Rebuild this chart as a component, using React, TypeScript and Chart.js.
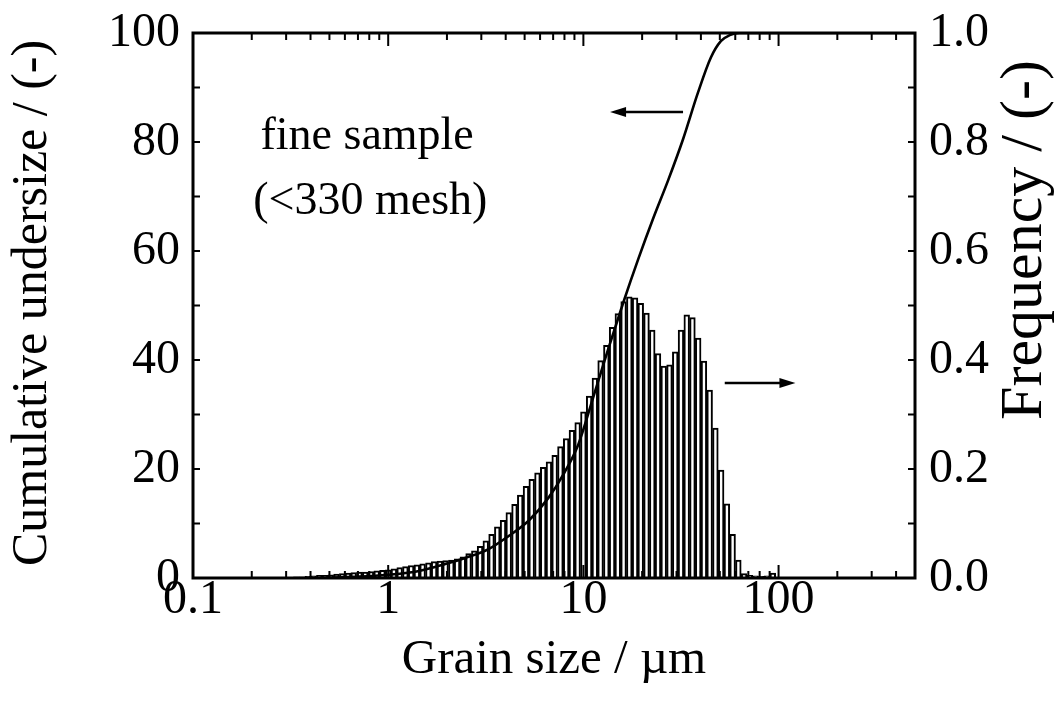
import React, { useEffect, useRef } from 'react';
import { Chart, registerables } from 'chart.js';

Chart.register(...registerables);

const FONT = '"Liberation Serif", "Times New Roman", serif';

// Histogram bins (grain size, µm) and frequency values (right axis)
const grainSizes = [
  0.3162, 0.3384, 0.3621, 0.3875, 0.4146, 0.4437, 0.4747, 0.508, 0.5436, 0.5817, 0.6224, 0.666, 0.7127, 0.7626, 0.8161, 0.8733, 0.9344,
  1.0, 1.070, 1.145, 1.225, 1.311, 1.403, 1.501, 1.607, 1.719, 1.840, 1.968, 2.106, 2.254, 2.412, 2.581, 2.762, 2.955, 3.162, 3.384,
  3.621, 3.875, 4.146, 4.437, 4.747, 5.080, 5.436, 5.817, 6.224, 6.660, 7.127, 7.626, 8.161, 8.733, 9.344,
  10.0, 10.70, 11.45, 12.25, 13.11, 14.03, 15.01, 16.07, 17.19, 18.40, 19.68, 21.06, 22.54, 24.12, 25.81, 27.62, 29.55, 31.62, 33.84,
  36.21, 38.75, 41.46, 44.37, 47.47, 50.80, 54.36, 58.17, 62.24, 66.60, 71.27, 76.26, 81.61, 87.33, 93.44,
];
const frequency = [
  0.001, 0.002, 0.002, 0.003, 0.004, 0.005, 0.005, 0.006, 0.007, 0.008, 0.009, 0.010, 0.011, 0.011, 0.012, 0.013, 0.014,
  0.015, 0.017, 0.019, 0.021, 0.023, 0.024, 0.026, 0.028, 0.030, 0.031, 0.032, 0.033, 0.035, 0.039, 0.045, 0.050, 0.058, 0.068, 0.080,
  0.094, 0.106, 0.120, 0.135, 0.152, 0.168, 0.181, 0.193, 0.203, 0.213, 0.225, 0.241, 0.256, 0.271, 0.285,
  0.305, 0.334, 0.367, 0.399, 0.427, 0.460, 0.485, 0.507, 0.516, 0.514, 0.504, 0.486, 0.455, 0.412, 0.389, 0.391, 0.415, 0.455, 0.483,
  0.478, 0.440, 0.398, 0.345, 0.275, 0.198, 0.136, 0.080, 0.033, 0.008, 0.005, 0.004, 0.003, 0.004, 0.009,
];

// Cumulative undersize curve (left axis)
const cumSizes = [0.4, 0.5, 0.71, 1.0, 1.44, 1.98, 2.5, 3.27, 4.14, 5.24, 6.62, 7.9, 9.42, 11.2, 13.4, 16.0, 19.1, 22.8, 27.2, 32.4, 38.6, 45.0, 50.6, 56.2, 63.2, 500];
const cumUndersize = [0, 0.1, 0.25, 0.6, 1.3, 2.6, 3.7, 5.3, 7.7, 10.5, 14.7, 19.0, 24.5, 33.0, 42.0, 50.5, 58.5, 66.0, 73.0, 80.5, 89.0, 95.5, 98.5, 99.6, 100, 100];

// Tick labels
const xTickLabels = ['0.1', '1', '10', '100'];
const leftTickLabels = ['0', '20', '40', '60', '80', '100'];
const rightTickLabels = ['0.0', '0.2', '0.4', '0.6', '0.8', '1.0'];

// Text annotations
const annotationLines = ['fine sample', '(<330 mesh)'];

const decor = {
  id: 'decor',
  afterDraw(chart: any) {
    const { ctx, chartArea: a, scales } = chart;
    const x = scales.x, y = scales.y, y1 = scales.y1;
    ctx.save();
    ctx.strokeStyle = '#000';
    ctx.fillStyle = '#000';

    // ticks (inward)
    ctx.lineWidth = 2;
    ctx.beginPath();
    for (let e = -1; e <= 2; e++) {
      for (let m = 1; m <= 9; m++) {
        const v = m * Math.pow(10, e);
        if (v > 500 + 1e-9) continue;
        const px = x.getPixelForValue(v);
        const len = m === 1 ? 13 : 7;
        ctx.moveTo(px, a.bottom); ctx.lineTo(px, a.bottom - len);
        ctx.moveTo(px, a.top); ctx.lineTo(px, a.top + len);
      }
    }
    for (let v = 10; v < 100; v += 10) {
      const py = y.getPixelForValue(v);
      ctx.moveTo(a.left, py); ctx.lineTo(a.left + 7, py);
    }
    for (let v = 1; v < 10; v++) {
      const py = y1.getPixelForValue(v / 10);
      ctx.moveTo(a.right, py); ctx.lineTo(a.right - 7, py);
    }
    ctx.stroke();

    // frame
    ctx.lineWidth = 3;
    ctx.strokeRect(a.left, a.top, a.right - a.left, a.bottom - a.top);

    // arrows
    const arrow = (x0: number, x1: number, py: number) => {
      ctx.lineWidth = 2.5;
      ctx.beginPath();
      const dir = Math.sign(x1 - x0);
      ctx.moveTo(x0, py); ctx.lineTo(x1 - dir * 10, py);
      ctx.stroke();
      ctx.beginPath();
      ctx.moveTo(x1, py);
      ctx.lineTo(x1 - dir * 16, py - 5);
      ctx.lineTo(x1 - dir * 16, py + 5);
      ctx.closePath();
      ctx.fill();
    };
    arrow(x.getPixelForValue(32.4), x.getPixelForValue(13.7), y.getPixelForValue(85.5));
    arrow(x.getPixelForValue(53), x.getPixelForValue(122), y1.getPixelForValue(0.358));

    // annotation text
    ctx.font = `46px ${FONT}`;
    ctx.textAlign = 'center';
    ctx.textBaseline = 'middle';
    ctx.fillText(annotationLines[0], x.getPixelForValue(0.78), y.getPixelForValue(81.0));
    ctx.fillText(annotationLines[1], x.getPixelForValue(0.81), y.getPixelForValue(69.0));

    // axis titles
    ctx.textBaseline = 'alphabetic';
    ctx.font = `49px ${FONT}`;
    ctx.fillText('Grain size / µm', (a.left + a.right) / 2, 673);

    ctx.font = `50px ${FONT}`;
    ctx.save();
    ctx.translate(46, 303);
    ctx.rotate(-Math.PI / 2);
    ctx.fillText('Cumulative undersize / (-)', 0, 0);
    ctx.restore();

    ctx.font = `60px ${FONT}`;
    ctx.save();
    ctx.translate(1041, 240);
    ctx.rotate(-Math.PI / 2);
    ctx.fillText('Frequency / (-)', 0, 0);
    ctx.restore();

    ctx.restore();
  },
};

const App = () => {
  const ref = useRef<HTMLCanvasElement>(null);
  useEffect(() => {
    const canvas = ref.current;
    if (!canvas) return;
    const tickFont = { family: FONT, size: 48 };
    const zeroPad = (s: any) => {
      s.paddingTop = 0; s.paddingBottom = 0; s.paddingLeft = 0; s.paddingRight = 0;
    };
    const chart = new Chart(canvas, {
      type: 'bar',
      data: {
        datasets: [
          {
            type: 'line',
            label: 'Cumulative undersize',
            data: cumSizes.map((v, i) => ({ x: v, y: cumUndersize[i] })),
            yAxisID: 'y',
            borderColor: '#000',
            borderWidth: 2.6,
            pointRadius: 0,
            cubicInterpolationMode: 'monotone',
            order: 0,
          } as any,
          {
            type: 'bar',
            label: 'Frequency',
            data: grainSizes.map((v, i) => ({ x: v, y: frequency[i] })),
            yAxisID: 'y1',
            backgroundColor: '#fff',
            borderColor: '#000',
            borderWidth: 2,
            barPercentage: 1,
            categoryPercentage: 1,
            order: 1,
          } as any,
        ],
      },
      options: {
        responsive: true,
        maintainAspectRatio: false,
        animation: false,
        layout: { padding: { top: 33, left: 0, right: 0, bottom: 0 } },
        plugins: { legend: { display: false }, tooltip: { enabled: false } },
        scales: {
          x: {
            type: 'logarithmic',
            min: 0.1,
            max: 500,
            position: 'bottom',
            grid: { display: false },
            border: { display: false },
            ticks: {
              autoSkip: false,
              maxRotation: 0,
              color: '#000',
              font: tickFont,
              padding: -14,
              callback: (v: any) => {
                const l = Math.log10(Number(v));
                if (Math.abs(l - Math.round(l)) > 1e-6) return '';
                return xTickLabels[Math.round(l) + 1] ?? '';
              },
            },
            afterFit: (s: any) => { zeroPad(s); s.height = 126; },
          },
          y: {
            position: 'left',
            min: 0,
            max: 100,
            grid: { display: false },
            border: { display: false },
            ticks: {
              stepSize: 20,
              color: '#000',
              font: tickFont,
              padding: 5,
              callback: (v: any) => leftTickLabels[Math.round(Number(v) / 20)] ?? '',
            },
            afterFit: (s: any) => { zeroPad(s); s.width = 193; },
          },
          y1: {
            position: 'right',
            min: 0,
            max: 1,
            grid: { display: false },
            border: { display: false },
            ticks: {
              stepSize: 0.2,
              color: '#000',
              font: tickFont,
              padding: 6,
              callback: (v: any) => rightTickLabels[Math.round(Number(v) * 5)] ?? '',
            },
            afterFit: (s: any) => { zeroPad(s); s.width = 139; },
          },
        },
      },
      plugins: [decor],
    });
    return () => chart.destroy();
  }, []);
  return (
    <div style={{ position: 'fixed', left: 0, top: 0, width: 1054, height: 704, background: '#fff' }}>
      <canvas ref={ref} />
    </div>
  );
};

export default App;
